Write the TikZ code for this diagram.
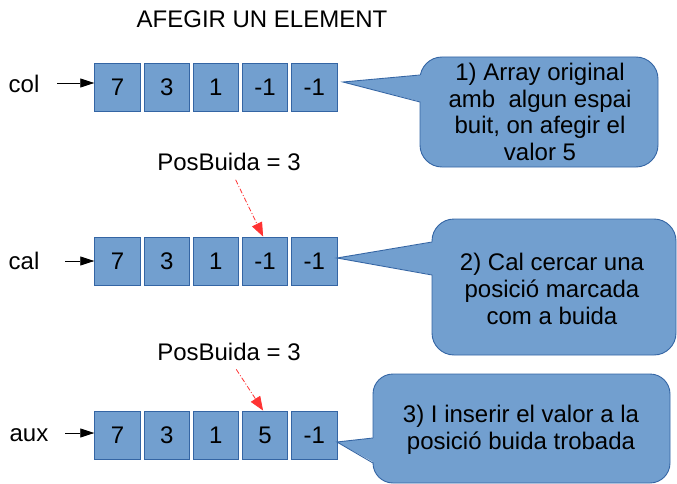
\documentclass[tikz,border=0pt]{standalone}
\usepackage{fontspec}
\setmainfont{Liberation Sans}
\usetikzlibrary{arrows.meta}
\definecolor{cellblue}{HTML}{729FCF}
\definecolor{celledge}{HTML}{3465A4}
\definecolor{posred}{HTML}{FF3333}
\tikzset{
  txt/.style={font=\fontsize{24}{26.8}\selectfont},
  cell/.style={draw=celledge,fill=cellblue,line width=0.9pt,minimum width=45.5pt,minimum height=48pt,inner sep=0pt},
  bubble/.style={draw=celledge,fill=cellblue,line width=0.9pt},
  bubbleedge/.style={draw=celledge,line width=0.9pt,line join=miter},
  ptr/.style={-{Triangle[length=14pt,width=9pt]},line width=0.7pt},
  redptr/.style={-{Triangle[length=14pt,width=11pt]},posred,line width=0.8pt,dash pattern=on 5pt off 2pt on 1pt off 2pt}
}

\begin{document}
\begin{tikzpicture}[x=1pt,y=-1pt,every node/.style={txt}]
\useasboundingbox (0,0) rectangle (677,484);
\node (title) at (262,19) {AFEGIR UN ELEMENT};

\foreach \v [count=\i] in {7,3,1,-1,-1}
  \node[cell] (a\i) at ({117.5+49.2*(\i-1)},87) {\v};
\foreach \v [count=\i] in {7,3,1,-1,-1}
  \node[cell] (b\i) at ({117.5+49.2*(\i-1)},261) {\v};
\foreach \v [count=\i] in {7,3,1,5,-1}
  \node[cell] (c\i) at ({117.5+49.2*(\i-1)},435) {\v};

\node (lcol) at (24,84) {col};
\node (lcal) at (24,261) {cal};
\node (laux) at (29,435) {aux};
\coordinate (s1) at (57,83);
\coordinate (s2) at (65,261);
\coordinate (s3) at (65,433);
\draw[ptr] (s1) -- (s1 -| a1.west);
\draw[ptr] (s2) -- (s2 -| b1.west);
\draw[ptr] (s3) -- (s3 -| c1.west);

\node (pb1) at (229,162) {PosBuida = 3};
\node (pb2) at (229,352) {PosBuida = 3};
\draw[redptr,shorten <=6pt] ([xshift=4pt]pb1.south) -- ([xshift=-2pt]b4.north);
\draw[redptr,shorten <=6pt] ([xshift=4pt]pb2.south) -- ([xshift=-2pt]c4.north);

\draw[bubble,rounded corners=22pt] (420,57) rectangle (658,167);
\fill[cellblue] (343,82) -- (422,75) -- (422,102) -- cycle;
\draw[bubbleedge] (420,75) -- (343,82) -- (420,102);
\node[align=center] (t1) at (540,112) {1) Array original\\amb~ algun espai\\buit, on afegir el\\valor 5};

\draw[bubble,rounded corners=22pt] (432,219) rectangle (676,355);
\fill[cellblue] (337,258) -- (434,242) -- (434,275) -- cycle;
\draw[bubbleedge] (432,242) -- (337,258) -- (432,275);
\node[align=center] (t2) at (552,289) {2) Cal cercar una\\posició marcada\\com a buida};

\draw[bubble,rounded corners=20pt] (373,374) rectangle (670,483);
\fill[cellblue] (337,442) -- (375,438) -- (375,463) -- cycle;
\draw[bubbleedge] (373,438) -- (337,442) -- (373,463);
\node[align=center] (t3) at (521,430) {3) I inserir el valor a la\\posició buida trobada};
\end{tikzpicture}
\end{document}
